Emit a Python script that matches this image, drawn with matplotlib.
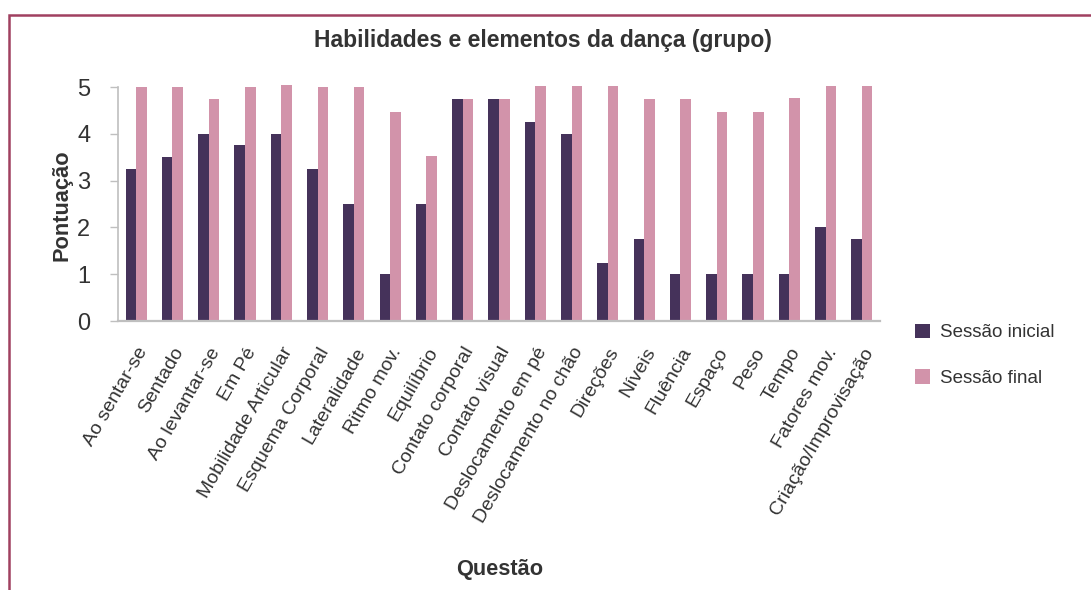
import matplotlib
matplotlib.use("Agg")
import matplotlib.pyplot as plt
import numpy as np
from matplotlib.patches import Rectangle

plt.rcParams['font.family'] = ['Liberation Sans', 'DejaVu Sans']

categories = [
    "Ao sentar-se", "Sentado", "Ao levantar-se", "Em Pé", "Mobilidade Articular",
    "Esquema Corporal", "Lateralidade", "Ritmo mov.", "Equilíbrio", "Contato corporal",
    "Contato visual", "Deslocamento em pé", "Deslocamento no chão", "Direções", "Níveis",
    "Fluência", "Espaço", "Peso", "Tempo", "Fatores mov.", "Criação/Improvisação",
]
sessao_inicial = [3.25, 3.5, 4.0, 3.75, 4.0, 3.25, 2.5, 1.0, 2.5, 4.75,
                  4.75, 4.25, 4.0, 1.25, 1.75, 1.0, 1.0, 1.0, 1.0, 2.0, 1.75]
sessao_final = [5.0, 5.0, 4.75, 5.0, 5.05, 5.0, 5.0, 4.47, 3.53, 4.75,
                4.75, 5.03, 5.03, 5.03, 4.75, 4.75, 4.47, 4.47, 4.77, 5.03, 5.03]
series_labels = ["Sessão inicial", "Sessão final"]
y_ticks = [0, 1, 2, 3, 4, 5]

c_dark = "#45325a"
c_pink = "#d293aa"
c_text = "#333333"
c_axis = "#bfbfbf"

fig = plt.figure(figsize=(10.91, 5.90), dpi=100)
fig.patch.set_facecolor("white")

# outer frame (top and left edges)
fig.add_artist(Rectangle((9 / 1091, -0.05), 1.2, 0.05 + (590 - 15) / 590,
                         transform=fig.transFigure, fill=False,
                         edgecolor="#a04060", linewidth=1.8))

ax = fig.add_axes([118 / 1091, 269 / 590, 762 / 1091, 234 / 590])
x = np.arange(len(categories))
w = 0.29
ax.bar(x - w / 2, sessao_inicial, width=w, color=c_dark, label=series_labels[0], clip_on=False)
ax.bar(x + w / 2, sessao_final, width=w, color=c_pink, label=series_labels[1], clip_on=False)

ax.set_xlim(-0.5, len(categories) - 0.5)
ax.set_ylim(0, 5)
ax.set_yticks(y_ticks)
ax.set_yticklabels([str(t) for t in y_ticks], fontsize=17, color=c_text)
ax.set_xticks(x)
ax.set_xticklabels(categories, rotation=60, ha="right", rotation_mode="anchor",
                   fontsize=14, color=c_text)
ax.tick_params(axis="x", length=0, pad=17)
ax.tick_params(axis="y", length=6, width=1, color=c_axis, pad=14)

for side in ("top", "right"):
    ax.spines[side].set_visible(False)
ax.spines["left"].set_color(c_axis)
ax.spines["bottom"].set_color(c_axis)
ax.spines["left"].set_linewidth(1.2)
ax.spines["bottom"].set_linewidth(1.6)

fig.text(543 / 1091, 1 - 40 / 590, "Habilidades e elementos da dança (grupo)",
         ha="center", va="center", fontsize=16.5, fontweight="bold", color=c_text)
fig.text(62 / 1091, 1 - 205 / 590, "Pontuação", rotation=90, ha="center", va="center",
         fontsize=15.7, fontweight="bold", color=c_text)
fig.text(500 / 1091, 1 - 569 / 590, "Questão", ha="center", va="center",
         fontsize=15.7, fontweight="bold", color=c_text)

leg = fig.legend(loc="upper left", bbox_to_anchor=(907 / 1091, 1 - 316 / 590),
                 frameon=False, fontsize=13.5, handlelength=0.8, handleheight=0.8,
                 labelspacing=1.5, handletextpad=0.55, borderaxespad=0)
for t in leg.get_texts():
    t.set_color(c_text)

fig.savefig("out.png", dpi=100)
